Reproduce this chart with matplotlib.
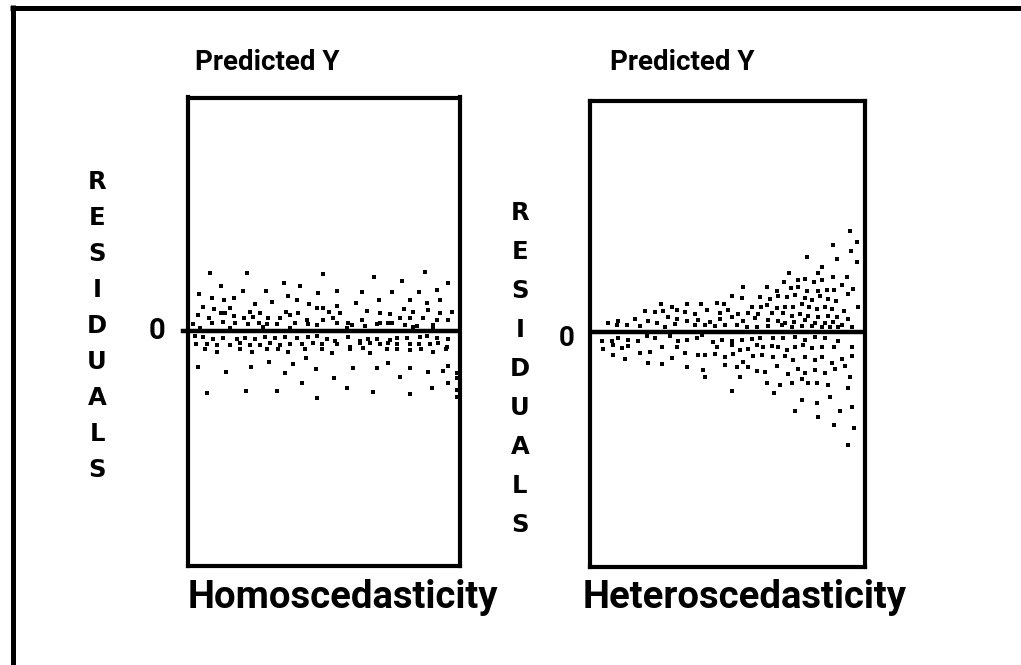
import matplotlib
matplotlib.use("Agg")
import matplotlib.pyplot as plt

# ---------------- data ----------------
# Left panel: homoscedastic residuals (x = predicted Y, arbitrary units)
homo_x_upper = [
    90, 200, 430, 583, 735, 122, 312, 360, 665, 805,
    57, 95, 190, 258, 323, 352, 413, 472, 545, 635,
    717, 770, 131, 163, 225, 275, 387, 430, 472, 528,
    598, 690, 742, 780, 70, 103, 123, 150, 210, 240,
    318, 355, 410, 447, 480, 562, 600, 630, 672, 700,
    745, 780, 817, 55, 88, 135, 163, 192, 220, 265,
    300, 330, 380, 430, 460, 505, 545, 600, 635, 660,
    690, 730, 770, 805, 40, 95, 128, 165, 205, 237,
    262, 290, 345, 385, 410, 470, 515, 555, 590, 625,
    675, 710, 760, 60, 150, 250, 330, 500, 700, 760,
]
homo_res_upper = [
    174, 174, 170, 162, 177, 134, 142, 134, 149, 142,
    109, 99, 120, 120, 105, 92, 112, 120, 115, 115,
    115, 122, 92, 99, 80, 87, 80, 67, 75, 84,
    92, 92, 84, 92, 70, 64, 52, 67, 57, 52,
    57, 52, 67, 57, 52, 60, 52, 50, 64, 57,
    62, 54, 55, 47, 37, 52, 44, 37, 42, 37,
    37, 47, 32, 32, 37, 24, 32, 24, 22, 37,
    37, 37, 32, 32, 20, 24, 27, 22, 20, 24,
    20, 20, 24, 20, 17, 22, 17, 14, 20, 22,
    17, 14, 17, 7, 7, 10, 7, 7, 10, 7,
]
homo_x_lower = [
    45, 70, 100, 130, 170, 195, 225, 255, 285, 315,
    350, 385, 410, 440, 465, 505, 540, 565, 590, 630,
    650, 680, 720, 740, 770, 805, 48, 80, 110, 150,
    180, 210, 240, 270, 300, 330, 365, 398, 425, 470,
    510, 540, 570, 600, 625, 650, 690, 718, 750, 775,
    800, 75, 110, 180, 215, 260, 295, 325, 375, 425,
    455, 510, 550, 570, 620, 650, 690, 722, 760, 797,
    55, 138, 212, 268, 315, 340, 378, 407, 463, 518,
    592, 625, 660, 690, 745, 788, 805, 830, 80, 197,
    292, 365, 410, 500, 578, 690, 757, 805, 830, 830,
    830,
]
homo_res_lower = [
    -16, -20, -26, -23, -26, -23, -26, -20, -23, -20,
    -23, -20, -16, -26, -30, -20, -30, -26, -26, -28,
    -23, -23, -20, -16, -23, -26, -40, -40, -43, -43,
    -38, -43, -43, -38, -43, -41, -41, -38, -40, -40,
    -48, -38, -38, -41, -38, -41, -41, -40, -41, -38,
    -48, -56, -63, -56, -63, -56, -56, -63, -56, -56,
    -68, -56, -53, -68, -56, -56, -58, -56, -63, -56,
    -108, -123, -110, -93, -126, -100, -83, -116, -141, -113,
    -113, -98, -138, -113, -123, -120, -106, -128, -188, -180,
    -180, -156, -203, -171, -183, -191, -173, -158, -143, -178,
    -198,
]

# Right panel: heteroscedastic residuals
hetero_x_upper = [
    795, 815, 745, 797, 665, 757, 815, 710, 612, 700,
    745, 785, 640, 660, 688, 712, 598, 475, 545, 575,
    618, 640, 665, 700, 725, 748, 770, 805, 440, 472,
    525, 555, 580, 605, 630, 660, 680, 705, 730, 752,
    790, 228, 262, 305, 348, 395, 418, 500, 528, 545,
    575, 600, 625, 650, 672, 695, 720, 742, 778, 820,
    180, 210, 235, 275, 300, 330, 365, 405, 430, 458,
    490, 520, 560, 595, 620, 645, 670, 700, 730, 755,
    790, 70, 100, 150, 190, 215, 250, 275, 305, 340,
    375, 405, 440, 475, 510, 548, 580, 600, 628, 660,
    690, 720, 745, 770, 95, 125, 165, 240, 270, 330,
    360, 390, 420, 455, 485, 515, 550, 590, 620, 650,
    680, 710, 735, 760, 800,
]
hetero_res_upper = [
    303, 270, 260, 243, 225, 217, 208, 193, 175, 177,
    165, 165, 155, 157, 150, 155, 150, 135, 133, 123,
    130, 135, 123, 123, 125, 125, 140, 127, 107, 100,
    103, 97, 107, 103, 110, 100, 95, 107, 97, 93,
    113, 83, 75, 83, 83, 87, 83, 75, 73, 80,
    70, 73, 73, 83, 73, 67, 75, 67, 63, 75,
    63, 60, 63, 65, 60, 53, 65, 57, 65, 53,
    57, 53, 55, 55, 47, 53, 47, 43, 47, 43,
    37, 27, 33, 37, 33, 27, 43, 37, 33, 35,
    30, 37, 43, 33, 40, 35, 33, 25, 30, 35,
    27, 25, 30, 20, 20, 20, 17, 15, 23, 20,
    20, 17, 20, 20, 15, 15, 17, 20, 13, 17,
    17, 15, 15, 15, 15,
]
hetero_x_lower = [
    50, 80, 100, 130, 160, 185, 210, 255, 280, 305,
    335, 350, 385, 410, 440, 470, 500, 525, 565, 595,
    630, 660, 690, 720, 760, 55, 85, 110, 130, 165,
    195, 230, 275, 300, 340, 360, 395, 440, 465, 490,
    515, 535, 560, 580, 605, 630, 655, 680, 710, 748,
    800, 85, 120, 190, 230, 262, 305, 390, 420, 443,
    475, 505, 530, 565, 600, 625, 660, 690, 712, 740,
    772, 800, 355, 360, 420, 455, 490, 515, 540, 575,
    610, 640, 660, 690, 720, 750, 780, 795, 440, 465,
    545, 585, 620, 650, 670, 695, 730, 790, 568, 650,
    697, 735, 800, 630, 700, 765, 748, 808, 790,
]
hetero_res_lower = [
    -27, -27, -20, -25, -27, -13, -20, -13, -27, -25,
    -20, -10, -30, -25, -27, -25, -23, -20, -20, -20,
    -17, -25, -17, -20, -27, -53, -40, -50, -43, -63,
    -60, -45, -47, -63, -70, -70, -47, -40, -55, -53,
    -40, -47, -43, -45, -55, -47, -40, -50, -47, -47,
    -47, -70, -83, -93, -97, -80, -105, -67, -75, -67,
    -90, -73, -70, -75, -73, -85, -75, -85, -75, -93,
    -83, -73, -115, -135, -100, -105, -107, -117, -120, -103,
    -127, -113, -125, -115, -125, -113, -103, -135, -177, -135,
    -153, -160, -155, -143, -155, -153, -160, -170, -185, -205,
    -215, -195, -227, -237, -255, -237, -280, -290, -340,
]

top_titles = ["Predicted Y", "Predicted Y"]
bottom_titles = ["Homoscedasticity", "Heteroscedasticity"]
axis_word = "RESIDUALS"
zero_label = "0"

# ---------------- figure ----------------
W, H = 1021, 665
fig = plt.figure(figsize=(W / 100, H / 100), dpi=100)
fig.patch.set_facecolor("white")


def fx(px):
    return px / W


def fy(py):
    return 1 - py / H


title_font = ["Roboto", "DejaVu Sans"]
letters_font = ["DejaVu Sans"]

# outer frame (only top and left edges visible)
fig.add_artist(plt.Line2D([fx(10), 1.0], [fy(7.5), fy(7.5)], color="black",
                          lw=3.6, transform=fig.transFigure, solid_capstyle="butt"))
fig.add_artist(plt.Line2D([fx(13), fx(13)], [fy(5), 0.0], color="black",
                          lw=3.6, transform=fig.transFigure, solid_capstyle="butt"))

ax1 = fig.add_axes([fx(187.5), fy(565.5), fx(459.5) - fx(187.5), fy(97.5) - fy(565.5)])
ax2 = fig.add_axes([fx(590), fy(566.5), fx(864.5) - fx(590), fy(101) - fy(566.5)])

panels = [
    (ax1, homo_x_upper + homo_x_lower, homo_res_upper + homo_res_lower,
     (22.5, 838.5), (-704.5, 699.5)),
    (ax2, hetero_x_upper + hetero_x_lower, hetero_res_upper + hetero_res_lower,
     (15, 838.5), (-704.5, 692)),
]

for ax, xs, ys, xl, yl in panels:
    ax.plot(xs, ys, ls="none", marker="s", ms=2.2, mew=0, color="black")
    ax.axhline(0, color="black", lw=3.2, zorder=3)
    ax.set_xlim(*xl)
    ax.set_ylim(*yl)
    ax.set_xticks([])
    ax.set_yticks([])
    for sp in ax.spines.values():
        sp.set_linewidth(3.0)
        sp.set_color("black")

# small tick left of the left panel at zero
ax1.axhline(0, xmin=-0.018, xmax=0.0, color="black", lw=3.2, clip_on=False)

# titles
fig.text(fx(267), fy(62), top_titles[0], family=title_font, weight="bold",
         fontsize=20, ha="center", va="center")
fig.text(fx(682), fy(62), top_titles[1], family=title_font, weight="bold",
         fontsize=20, ha="center", va="center")
fig.text(fx(343), fy(598), bottom_titles[0], family=title_font, weight="bold",
         fontsize=27.5, ha="center", va="center")
fig.text(fx(745), fy(598), bottom_titles[1], family=title_font, weight="bold",
         fontsize=27.5, ha="center", va="center")

# vertical RESIDUALS labels
for x0, y0, step in [(97, 182, 36), (520, 213, 39)]:
    for i, ch in enumerate(axis_word):
        fig.text(fx(x0), fy(y0 + i * step), ch, family=letters_font,
                 weight="bold", fontsize=17.5, ha="center", va="center")

# zero labels
ax1.annotate(zero_label, xy=(0, 0), xycoords=("axes fraction", "data"),
             xytext=(-22, 0), textcoords="offset pixels", ha="right", va="center",
             family=title_font, weight="bold", fontsize=21)
ax2.annotate(zero_label, xy=(0, 0), xycoords=("axes fraction", "data"),
             xytext=(-15, -7), textcoords="offset pixels", ha="right", va="center",
             family=title_font, weight="bold", fontsize=20)

fig.savefig("out.png", dpi=100, facecolor="white")
